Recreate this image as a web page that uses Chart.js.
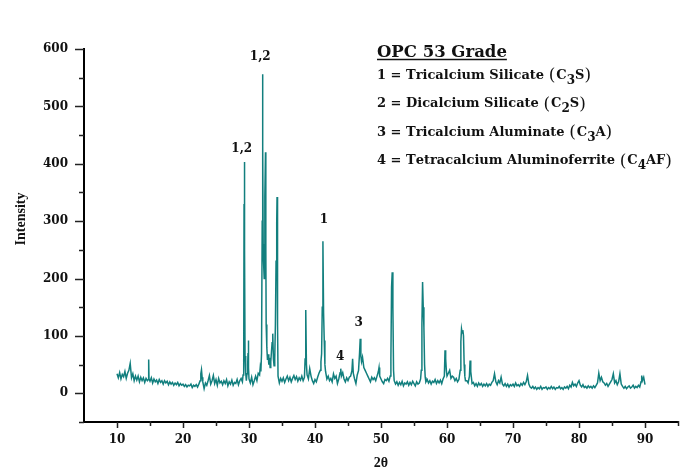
<!DOCTYPE html>
<html>
<head>
<meta charset="utf-8">
<title>OPC 53 Grade XRD</title>
<script src="https://cdn.jsdelivr.net/npm/chart.js@4.4.0/dist/chart.umd.min.js"></script>
<style>
  html, body { margin: 0; padding: 0; background: #fff; }
  #wrap { width: 689px; height: 474px; }
</style>
</head>
<body>
<div id="wrap"><canvas id="xrd" width="689" height="474"></canvas></div>
<script>
// ---------------------------------------------------------
// Data (2θ in degrees, counts)
// ---------------------------------------------------------
const twoTheta = [
  10.0, 10.2, 10.4, 10.6, 10.8,
  11.0, 11.2, 11.4, 11.6, 11.8,
  12.0, 12.2, 12.4, 12.6, 12.8,
  13.0, 13.2, 13.4, 13.6, 13.8,
  14.0, 14.2, 14.4, 14.6, 14.75, 14.8, 14.85,
  15.0, 15.2, 15.4, 15.6, 15.8,
  16.0, 16.2, 16.4, 16.6, 16.8,
  17.0, 17.2, 17.4, 17.6, 17.8,
  18.0, 18.2, 18.4, 18.6, 18.8,
  19.0, 19.2, 19.4, 19.6, 19.8,
  20.0, 20.2, 20.4, 20.6, 20.8,
  21.0, 21.2, 21.4, 21.6, 21.8,
  22.0, 22.2, 22.4, 22.6, 22.7, 22.8, 22.9,
  23.0, 23.2, 23.4, 23.6, 23.8,
  24.0, 24.2, 24.4, 24.6, 24.8,
  25.0, 25.2, 25.4, 25.6, 25.8,
  26.0, 26.2, 26.4, 26.6, 26.8,
  27.0, 27.2, 27.4, 27.6, 27.8,
  28.0, 28.2, 28.4, 28.6, 28.8,
  29.0, 29.1, 29.2, 29.25, 29.3, 29.35, 29.4, 29.5, 29.6, 29.7, 29.8, 29.85, 29.9, 29.95,
  30.0, 30.2, 30.4, 30.6, 30.8,
  31.0, 31.2, 31.4, 31.6, 31.7, 31.8, 31.9,
  32.0, 32.05, 32.1, 32.15, 32.2, 32.3, 32.4, 32.5, 32.55, 32.6, 32.7, 32.8, 32.9,
  33.0, 33.1, 33.2, 33.3, 33.4, 33.5, 33.6, 33.7, 33.8, 33.9,
  34.0, 34.1, 34.2, 34.25, 34.3, 34.35, 34.4, 34.6, 34.8,
  35.0, 35.2, 35.4, 35.6, 35.8,
  36.0, 36.2, 36.4, 36.6, 36.8,
  37.0, 37.2, 37.4, 37.6, 37.8,
  38.0, 38.2, 38.4, 38.5, 38.6, 38.7, 38.8,
  39.0, 39.2, 39.4, 39.6, 39.8,
  40.0, 40.2, 40.4, 40.6, 40.8, 40.9,
  41.0, 41.1, 41.2, 41.3, 41.4, 41.5, 41.6, 41.8,
  42.0, 42.2, 42.4, 42.6, 42.8,
  43.0, 43.2, 43.4, 43.6, 43.8, 43.9,
  44.0, 44.2, 44.4, 44.6, 44.8,
  45.0, 45.2, 45.4, 45.6, 45.7, 45.8,
  46.0, 46.2, 46.4, 46.6, 46.75, 46.85, 46.95,
  47.05, 47.2, 47.4, 47.6, 47.8,
  48.0, 48.2, 48.4, 48.6, 48.8,
  49.0, 49.2, 49.4, 49.6, 49.7, 49.8,
  50.0, 50.2, 50.4, 50.6, 50.8,
  51.0, 51.2, 51.4, 51.5, 51.6, 51.7, 51.8, 51.9,
  52.0, 52.2, 52.4, 52.6, 52.8,
  53.0, 53.2, 53.4, 53.6, 53.8,
  54.0, 54.2, 54.4, 54.6, 54.8,
  55.0, 55.2, 55.4, 55.6, 55.8,
  56.0, 56.1, 56.2, 56.3, 56.4, 56.5, 56.6, 56.7, 56.8,
  57.0, 57.2, 57.4, 57.6, 57.8,
  58.0, 58.2, 58.4, 58.6, 58.8,
  59.0, 59.2, 59.4, 59.6, 59.7, 59.8, 59.9,
  60.0, 60.2, 60.4, 60.6, 60.8,
  61.0, 61.2, 61.4, 61.6, 61.8,
  62.0, 62.1, 62.2, 62.3, 62.4, 62.5, 62.6, 62.7, 62.8,
  63.0, 63.2, 63.4, 63.5, 63.6, 63.8,
  64.0, 64.2, 64.4, 64.6, 64.8,
  65.0, 65.2, 65.4, 65.6, 65.8,
  66.0, 66.2, 66.4, 66.6, 66.8,
  67.0, 67.2, 67.4, 67.6, 67.8,
  68.0, 68.2, 68.4, 68.6, 68.8,
  69.0, 69.2, 69.4, 69.6, 69.8,
  70.0, 70.2, 70.4, 70.6, 70.8,
  71.0, 71.2, 71.4, 71.6, 71.8,
  72.0, 72.2, 72.4, 72.6, 72.8,
  73.0, 73.2, 73.4, 73.6, 73.8,
  74.0, 74.2, 74.4, 74.6, 74.8,
  75.0, 75.2, 75.4, 75.6, 75.8,
  76.0, 76.2, 76.4, 76.6, 76.8,
  77.0, 77.2, 77.4, 77.6, 77.8,
  78.0, 78.2, 78.4, 78.6, 78.8,
  79.0, 79.2, 79.4, 79.6, 79.8,
  80.0, 80.2, 80.4, 80.6, 80.8,
  81.0, 81.2, 81.4, 81.6, 81.8,
  82.0, 82.2, 82.4, 82.6, 82.8,
  83.0, 83.2, 83.4, 83.6, 83.8,
  84.0, 84.2, 84.4, 84.6, 84.8,
  85.0, 85.2, 85.4, 85.6, 85.8,
  86.0, 86.2, 86.4, 86.6, 86.8,
  87.0, 87.2, 87.4, 87.6, 87.8,
  88.0, 88.2, 88.4, 88.6, 88.8,
  89.0, 89.2, 89.4, 89.5, 89.6, 89.8,
  90.0
];

const intensity = [
  34, 27, 36, 25, 33,
  29, 38, 26, 35, 40,
  52, 27, 34, 22, 30,
  23, 30, 20, 28, 22,
  27, 19, 26, 22, 24, 59, 25,
  21, 27, 18, 25, 20,
  23, 17, 24, 19, 22,
  16, 22, 18, 21, 15,
  20, 16, 19, 14, 18,
  15, 19, 13, 17, 14,
  16, 12, 15, 11, 14,
  13, 16, 10, 14, 12,
  15, 11, 16, 22, 34, 41, 28,
  20, 8, 18, 14, 22,
  31, 16, 22, 31, 17,
  24, 14, 26, 18, 21,
  15, 22, 17, 24, 13,
  20, 16, 23, 14, 19,
  17, 24, 15, 22, 26,
  20, 32, 60, 330, 403, 250, 65, 35, 22, 34, 50, 70, 92, 45,
  25, 18, 28, 15, 22,
  30, 22, 35, 32, 45, 38, 70,
  300, 556, 430, 260, 230, 200, 342, 420, 250, 120, 80, 58, 68,
  50, 62, 45, 55, 72, 88, 104, 60, 48, 60,
  120, 230, 300, 342, 250, 120, 30, 18, 26,
  21, 27, 19, 25, 30,
  22, 28, 20, 26, 31,
  24, 29, 21, 27, 23,
  30, 22, 28, 60, 145, 50, 32,
  25, 43, 30, 22, 17,
  24, 20, 28, 35, 40, 55,
  69, 150, 265, 140, 92, 50, 38, 25,
  30, 22, 26, 20, 34,
  26, 30, 17, 25, 36, 43,
  30, 36, 25, 20, 27,
  22, 28, 30, 40, 60, 35,
  25, 17, 32, 40, 70, 95, 65,
  55, 63, 45, 40, 35,
  30, 25, 20, 28, 24,
  27, 22, 30, 38, 45, 30,
  25, 20, 17, 24, 22,
  26, 21, 30, 60, 185, 211, 150, 40,
  22, 16, 20, 14, 19,
  15, 21, 13, 18, 16,
  20, 14, 19, 15, 21,
  17, 13, 20, 16, 18,
  25, 40, 120, 194, 150, 115, 50, 28, 20,
  24, 18, 22, 16, 21,
  19, 24, 17, 22, 18,
  23, 17, 25, 30, 75, 60, 40,
  30, 35, 40, 26, 30,
  28, 22, 26, 20, 24,
  40, 90, 112, 105, 110, 100, 50, 30, 22,
  22, 18, 30, 57, 38, 17,
  19, 13, 17, 12, 18,
  14, 17, 12, 16, 13,
  17, 12, 16, 14, 19,
  22, 34, 20, 15, 22,
  18, 28, 16, 13, 17,
  12, 16, 11, 15, 13,
  16, 12, 18, 13, 15,
  12, 17, 14, 19, 15,
  20, 31, 16, 11, 9,
  12, 8, 11, 7, 10,
  8, 12, 7, 10, 9,
  11, 7, 10, 8, 12,
  8, 11, 7, 10, 9,
  12, 8, 10, 7, 11,
  9, 12, 8, 14, 11,
  19, 13, 16, 12, 18,
  22, 14, 11, 15, 10,
  12, 9, 13, 10, 12,
  9, 13, 10, 14, 18,
  35, 22, 28, 20, 18,
  14, 17, 12, 16, 20,
  24, 34, 18, 22, 15,
  20, 34, 16, 12, 9,
  12, 8, 11, 13, 9,
  11, 14, 9, 12, 10,
  14, 11, 20, 31, 22, 28,
  15
];

// Peak labels, placed in data coordinates
const peakText = ['1,2', '1,2', '1', '3', '4'];
const peakX = [28.9, 31.7, 41.35, 46.6, 43.8];
const peakY = [426, 586, 303, 122, 63];

// Axis ticks
const yMajorTicks = [0, 100, 200, 300, 400, 500, 600];
const yMinorTicks = [-50, 50, 150, 250, 350, 450, 550];
const xMajorTicks = [10, 20, 30, 40, 50, 60, 70, 80, 90];
const xMinorTicks = [15, 25, 35, 45, 55, 65, 75, 85, 95];

const legendTitle = 'OPC 53 Grade';
const legendLines = [
  '1 = Tricalcium Silicate (C_3S)',
  '2 = Dicalcium Silicate (C_2S)',
  '3 = Tricalcium Aluminate (C_3A)',
  '4 = Tetracalcium Aluminoferrite (C_4AF)'
];

const LINE_COLOR = '#127f7e';
const INK = '#111';
const SERIF_W = '"DejaVu Serif", serif';
const SERIF = '"Liberation Serif", "Times New Roman", serif';

// ---------------------------------------------------------
// Overlay: tick marks, peak labels, y title, legend block
// ---------------------------------------------------------
const overlay = {
  id: 'overlay',
  afterDraw(chart) {
    const { ctx, scales: { x, y }, chartArea } = chart;
    ctx.save();

    // tick marks
    ctx.strokeStyle = '#222';
    ctx.lineWidth = 1.5;
    ctx.beginPath();
    yMajorTicks.forEach(v => {
      const py = Math.round(y.getPixelForValue(v)) + 0.5;
      ctx.moveTo(chartArea.left - 9, py); ctx.lineTo(chartArea.left, py);
    });
    yMinorTicks.forEach(v => {
      const py = Math.round(y.getPixelForValue(v)) + 0.5;
      ctx.moveTo(chartArea.left - 5, py); ctx.lineTo(chartArea.left, py);
    });
    xMajorTicks.forEach(v => {
      const px = Math.round(x.getPixelForValue(v)) + 0.5;
      ctx.moveTo(px, chartArea.bottom); ctx.lineTo(px, chartArea.bottom + 6);
    });
    xMinorTicks.forEach(v => {
      const px = Math.round(x.getPixelForValue(v)) + 0.5;
      ctx.moveTo(px, chartArea.bottom - 1); ctx.lineTo(px, chartArea.bottom + 4);
    });
    ctx.stroke();

    // peak labels
    ctx.fillStyle = INK;
    ctx.textAlign = 'center';
    ctx.textBaseline = 'middle';
    ctx.font = 'bold 12px ' + SERIF_W;
    peakText.forEach((t, i) => {
      ctx.fillText(t, x.getPixelForValue(peakX[i]), y.getPixelForValue(peakY[i]));
    });

    // y axis title
    ctx.save();
    ctx.translate(21, 219);
    ctx.rotate(-Math.PI / 2);
    ctx.font = 'bold 14px ' + SERIF;
    ctx.fillText('Intensity', 0, 0);
    ctx.restore();

    // legend block
    const left = 377;
    ctx.textAlign = 'left';
    ctx.textBaseline = 'alphabetic';
    ctx.font = 'bold 16.5px ' + SERIF_W;
    ctx.fillText(legendTitle, left, 57);
    const tw = ctx.measureText(legendTitle).width;
    ctx.strokeStyle = INK;
    ctx.lineWidth = 1.5;
    ctx.beginPath();
    ctx.moveTo(left, 59.5); ctx.lineTo(left + tw, 59.5);
    ctx.stroke();

    const baselines = [78.5, 107, 135.5, 164];
    legendLines.forEach((line, li) => {
      let cx = left;
      const by = baselines[li];
      for (let i = 0; i < line.length; i++) {
        const ch = line[i];
        if (ch === '_') {
          i++;
          ctx.font = 'bold 12px ' + SERIF_W;
          ctx.fillText(line[i], cx, by + 5);
          cx += ctx.measureText(line[i]).width;
          continue;
        }
        if (ch === '(' || ch === ')') {
          ctx.font = '17px ' + SERIF_W;
          ctx.fillText(ch, cx, by + 1.5);
          cx += ctx.measureText(ch).width + 1;
          continue;
        }
        ctx.font = 'bold 13px ' + SERIF_W;
        ctx.fillText(ch, cx, by);
        cx += ctx.measureText(ch).width;
      }
    });

    ctx.restore();
  }
};

const points = twoTheta.map((t, i) => ({ x: t, y: intensity[i] }));

new Chart(document.getElementById('xrd').getContext('2d'), {
  type: 'line',
  data: {
    datasets: [{
      data: points,
      borderColor: LINE_COLOR,
      borderWidth: 1.5,
      pointRadius: 0,
      tension: 0,
      fill: false
    }]
  },
  options: {
    responsive: false,
    animation: false,
    parsing: false,
    layout: { padding: { left: 0, right: 6, top: 49, bottom: 0 } },
    plugins: { legend: { display: false }, tooltip: { enabled: false } },
    scales: {
      x: {
        type: 'linear',
        min: 5,
        max: 95,
        grid: { display: false, drawTicks: false },
        border: { display: true, color: '#000', width: 2 },
        ticks: {
          stepSize: 5,
          padding: 11,
          color: INK,
          font: { family: SERIF_W, size: 12, weight: 'bold' },
          maxRotation: 0,
          autoSkip: false,
          callback: v => (v % 10 === 0 && v >= 10 && v <= 90) ? v : ''
        },
        title: {
          display: true,
          text: '2θ',
          color: INK,
          font: { family: SERIF, size: 14, weight: 'bold' },
          padding: { top: 0, bottom: 2 }
        },
        afterFit: s => { s.height = 52; }
      },
      y: {
        min: -50,
        max: 600,
        grid: { display: false, drawTicks: false },
        border: { display: true, color: '#000', width: 2 },
        ticks: {
          stepSize: 50,
          padding: 16,
          color: INK,
          font: { family: SERIF_W, size: 12, weight: 'bold' },
          autoSkip: false,
          callback: v => (v >= 0 && v % 100 === 0) ? v : ''
        },
        afterFit: s => { s.width = 84; }
      }
    }
  },
  plugins: [overlay]
});
</script>
</body>
</html>
